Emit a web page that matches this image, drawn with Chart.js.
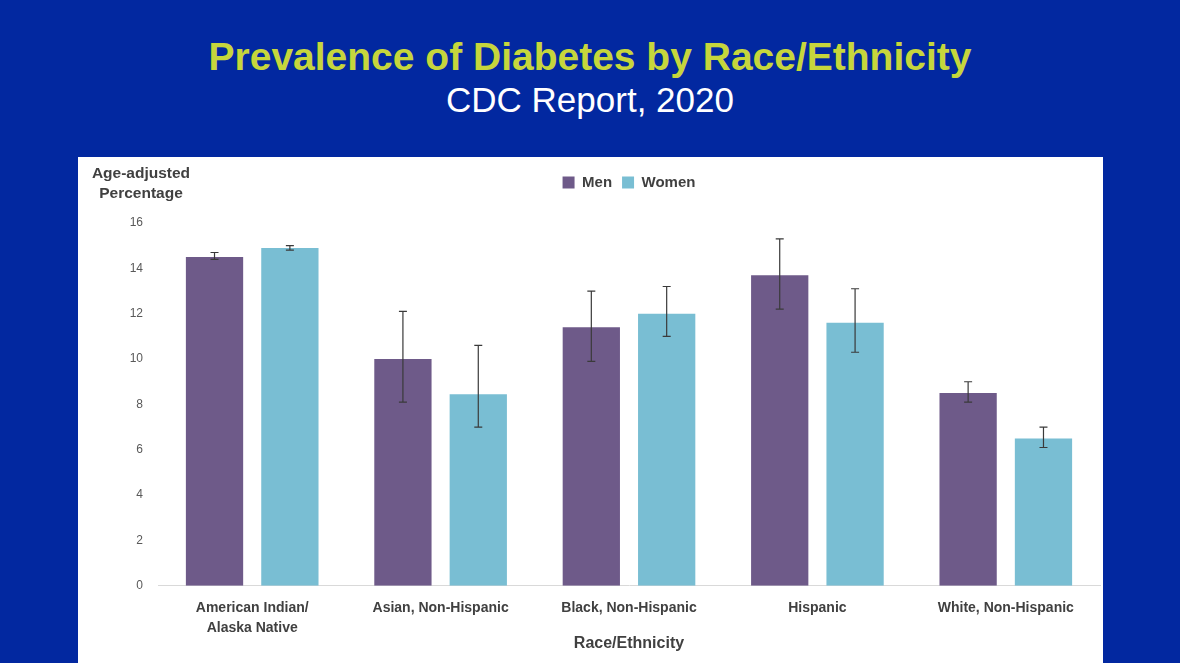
<!DOCTYPE html>
<html>
<head>
<meta charset="utf-8">
<script src="https://cdn.jsdelivr.net/npm/chart.js@4.4.1/dist/chart.umd.min.js"></script>
<style>
  body { margin: 0; width: 1180px; height: 663px; background: #0228a0; overflow: hidden; font-family: Arial, "Liberation Sans", sans-serif; }
  #title { position: absolute; top: 35px; left: 0; width: 1180px; text-align: center; color: #c6d63c; font-size: 39px; font-weight: bold; }
  #subtitle { position: absolute; top: 80px; left: 0; width: 1180px; text-align: center; color: #ffffff; font-size: 35px; }
  #panel { position: absolute; left: 78px; top: 157px; width: 1025px; height: 506px; background: #ffffff; }
  #ytitle { position: absolute; left: 3px; top: 6px; width: 120px; text-align: center; font-size: 15.5px; font-weight: bold; color: #404040; line-height: 20px; }
</style>
</head>
<body>
<div id="title">Prevalence of Diabetes by Race/Ethnicity</div>
<div id="subtitle">CDC Report, 2020</div>
<div id="panel">
  <canvas id="myChart" width="1025" height="506"></canvas>
  <div id="ytitle">Age-adjusted<br>Percentage</div>
</div>
<script>
const categories = [["American Indian/", "Alaska Native"], "Asian, Non-Hispanic", "Black, Non-Hispanic", "Hispanic", "White, Non-Hispanic"];
const menValues = [14.5, 10.0, 11.4, 13.7, 8.5];
const menLow = [14.4, 8.1, 9.9, 12.2, 8.1];
const menHigh = [14.7, 12.1, 13.0, 15.3, 9.0];
const womenValues = [14.9, 8.45, 12.0, 11.6, 6.5];
const womenLow = [14.8, 7.0, 11.0, 10.3, 6.1];
const womenHigh = [15.0, 10.6, 13.2, 13.1, 7.0];
const yTicks = [0, 2, 4, 6, 8, 10, 12, 14, 16];

const errorBars = {
  id: "errorBars",
  afterDatasetsDraw(chart) {
    const ctx = chart.ctx;
    const yScale = chart.scales.y;
    const ranges = [[menLow, menHigh], [womenLow, womenHigh]];
    ctx.save();
    ctx.strokeStyle = "#3a3a3a";
    ctx.lineWidth = 1.2;
    ranges.forEach((r, d) => {
      const meta = chart.getDatasetMeta(d);
      meta.data.forEach((bar, i) => {
        const yLo = yScale.getPixelForValue(r[0][i]);
        const yHi = yScale.getPixelForValue(r[1][i]);
        ctx.beginPath();
        ctx.moveTo(bar.x, yLo);
        ctx.lineTo(bar.x, yHi);
        ctx.moveTo(bar.x - 4, yLo);
        ctx.lineTo(bar.x + 4, yLo);
        ctx.moveTo(bar.x - 4, yHi);
        ctx.lineTo(bar.x + 4, yHi);
        ctx.stroke();
      });
    });
    ctx.restore();
  }
};

// fixed legend block height so the plot starts where the original does
const legendSpace = {
  id: "legendSpace",
  beforeInit(chart) {
    const fit = chart.legend.fit;
    chart.legend.fit = function () {
      fit.bind(chart.legend)();
      this.height = 58;
    };
  }
};

const chartData = {
  labels: categories,
  datasets: [
    { label: "Men", data: menValues, backgroundColor: "#6e5a89", categoryPercentage: 0.8, barPercentage: 0.76 },
    { label: "Women", data: womenValues, backgroundColor: "#79bed3", categoryPercentage: 0.8, barPercentage: 0.76 }
  ]
};

const config = {
  type: "bar",
  data: chartData,
  plugins: [errorBars, legendSpace],
  options: {
    responsive: false,
    animation: false,
    layout: { padding: { top: 8, right: 3, left: 0, bottom: 10 } },
    plugins: {
      legend: {
        position: "top",
        fullSize: false,
        labels: { boxWidth: 12, boxHeight: 12, padding: 10, color: "#404040", font: { size: 15, weight: "bold", family: "Arial" } }
      },
      tooltip: { enabled: false }
    },
    scales: {
      x: {
        grid: { display: false },
        border: { display: true, color: "#d9d9d9" },
        ticks: { color: "#404040", font: { size: 14, weight: "bold", family: "Arial", lineHeight: "20px" }, padding: 4, maxRotation: 0 },
        title: { display: true, text: "Race/Ethnicity", color: "#404040", font: { size: 16, weight: "bold", family: "Arial" }, padding: { top: -8, bottom: 0 } }
      },
      y: {
        min: 0,
        max: 16,
        afterBuildTicks(scale) { scale.ticks = yTicks.map(v => ({ value: v })); },
        afterFit(scale) { scale.width = 80; },
        grid: { display: false, drawTicks: false },
        border: { display: false },
        ticks: { color: "#595959", font: { size: 12, family: "Arial" }, padding: 15 }
      }
    }
  }
};

const myChart = new Chart(document.getElementById("myChart"), config);
</script>
</body>
</html>
